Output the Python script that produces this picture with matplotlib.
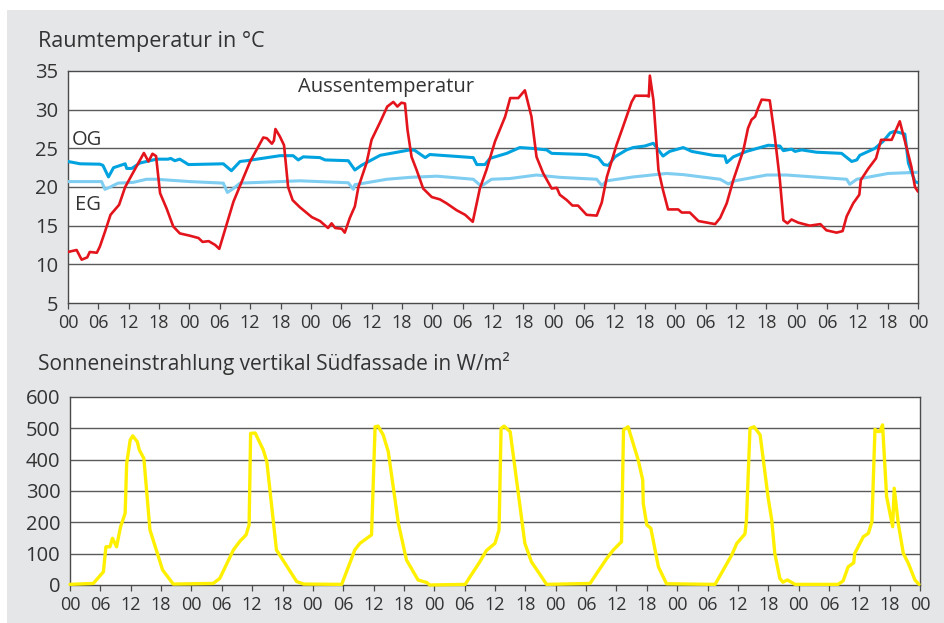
import matplotlib
matplotlib.use("Agg")
import matplotlib.pyplot as plt
from matplotlib.patches import Rectangle

plt.rcParams["font.family"] = ["Open Sans", "DejaVu Sans"]
plt.rcParams["lines.solid_joinstyle"] = "round"
plt.rcParams["lines.solid_capstyle"] = "round"

# --- Aussentemperatur (°C) over one week, hours from Monday 00:00 ---
out_hours = [0, 1.7, 2.7, 3.8, 4.3, 5.7, 6.3, 7.3, 8.4, 10.1, 11.3, 15.0, 15.9, 16.7, 17.4,
             18.2, 19.5, 20.8, 22.1, 24.1, 25.8, 26.6, 27.8, 29.1, 29.9, 32.7, 36.0, 38.6,
             39.3, 40.3, 40.7, 41.0, 41.9, 42.7, 43.5, 44.4, 45.8, 48.2, 49.8, 51.4, 52.1,
             52.8, 54.1, 54.7, 55.7, 56.7, 57.4, 59.0, 60.0, 61.7, 63.1, 64.3, 65.1, 65.9,
             66.6, 67.1, 67.9, 68.9, 70.2, 71.9, 73.5, 74.8, 76.8, 78.5, 80.0, 81.4, 82.7,
             84.4, 86.4, 87.4, 89.0, 90.3, 91.6, 92.6, 93.9, 95.6, 96.6, 97.2, 98.6, 99.7,
             100.8, 102.5, 104.5, 105.5, 106.5, 108.4, 109.7, 111.4, 112.1, 114.4, 114.8,
             115.0, 115.7, 116.7, 117.6, 118.6, 120.6, 121.3, 122.9, 124.6, 126.2, 127.9,
             128.9, 130.2, 131.5, 133.5, 134.4, 135.1, 135.8, 136.4, 137.1, 138.7, 139.7,
             140.7, 141.4, 142.2, 143.0, 144.3, 146.6, 148.7, 149.9, 151.9, 153.1, 153.9,
             155.2, 156.4, 156.7, 158.2, 159.7, 160.7, 162.8, 164.4, 165.7, 166.7, 167.4, 168]
out_temp = [11.6, 11.85, 10.6, 10.9, 11.6, 11.5, 12.3, 14.2, 16.4, 17.7, 20.0, 24.4, 23.3, 24.3,
            24.0, 19.2, 17.2, 14.9, 14.0, 13.7, 13.4, 12.9, 13.0, 12.5, 12.0, 18.1, 23.3, 26.4,
            26.3, 25.6, 26.0, 27.5, 26.5, 25.4, 20.0, 18.3, 17.4, 16.1, 15.6, 14.7, 15.3,
            14.7, 14.6, 14.1, 16.0, 17.5, 20.0, 23.1, 26.1, 28.4, 30.4, 31.0, 30.4, 30.9,
            30.8, 27.4, 23.9, 22.2, 19.8, 18.7, 18.4, 17.9, 17.0, 16.4, 15.5, 19.8, 22.2,
            25.9, 29.1, 31.5, 31.5, 32.5, 29.1, 23.9, 21.8, 19.8, 19.9, 19.0, 18.3, 17.6,
            17.6, 16.4, 16.3, 18.0, 21.3, 25.4, 27.8, 31.0, 31.8, 31.8, 31.7,
            34.4, 31.25, 22.2, 19.6, 17.1, 17.1, 16.7, 16.7, 15.6, 15.4, 15.2,
            16.0, 17.9, 20.9, 24.8, 27.6, 28.7, 29.1, 30.2, 31.3, 31.2, 26.5,
            20.9, 15.7, 15.3, 15.8, 15.4, 15.0, 15.2, 14.4, 14.1, 14.3, 16.2,
            17.9, 19.0, 20.9, 22.4, 23.7, 26.1, 26.1, 28.5, 25.2, 22.6, 20.0, 19.4]

# --- Obergeschoss (OG) room temperature ---
og_hours = [0, 2.4, 6.3, 6.9, 8.0, 9.0, 11.3, 11.6, 12.6, 14.2, 17.5, 19.8, 20.3, 21.1, 22.1,
            23.8, 30.7, 32.3, 34.0, 35.3, 41.9, 44.5, 45.5, 46.5, 49.8, 50.8, 55.4, 56.7,
            58.0, 61.7, 67.6, 68.5, 70.6, 71.5, 80.1, 80.8, 82.4, 83.4, 86.7, 89.3, 91.6,
            94.6, 95.6, 102.5, 104.8, 105.9, 106.8, 108.1, 110.4, 111.7, 114.0, 115.7,
            117.6, 118.9, 121.6, 123.3, 127.5, 129.8, 130.2, 131.5, 134.1, 138.4, 140.7,
            141.4, 143.0, 143.7, 145.0, 147.9, 152.9, 154.9, 155.9, 156.5, 159.5, 161.1,
            162.5, 163.4, 165.4, 166.1, 167.4, 168]
og_temp = [23.3, 23.0, 22.95, 22.8, 21.3, 22.5, 23.0, 22.4, 22.4, 23.1, 23.6, 23.6, 23.7, 23.4,
           23.6, 22.9, 23.0, 22.1, 23.3, 23.4, 24.05, 24.05, 23.5, 23.9, 23.8, 23.5, 23.4,
           22.2, 22.8, 24.1, 24.8, 24.75, 23.8, 24.2, 23.8, 22.9, 22.9, 23.7, 24.35, 25.1,
           25.0, 24.8, 24.35, 24.2, 23.8, 22.9, 22.8, 23.9, 24.8, 25.1, 25.3, 25.65,
           24.0, 24.6, 25.1, 24.6, 24.1, 24.0, 23.15, 23.9, 24.6, 25.4, 25.3,
           24.7, 24.9, 24.6, 24.8, 24.5, 24.35, 23.3, 23.5, 24.1, 25.0, 25.9,
           27.0, 27.2, 26.85, 23.1, 20.7, 20.55]

# --- Erdgeschoss (EG) room temperature ---
eg_hours = [0, 6.65, 7.3, 8.2, 9.9, 12.9, 15.5, 17.5, 24.1, 30.7, 31.5, 32.7, 34.0, 45.8, 55.4,
            56.4, 56.7, 59.0, 63.0, 67.6, 72.9, 80.1, 81.7, 83.7, 87.4, 92.6, 97.2, 104.5,
            105.5, 106.5, 111.7, 118.3, 121.6, 128.9, 130.5, 131.8, 138.1, 142.0, 153.9,
            154.5, 155.9, 162.1, 168]
eg_temp = [20.7, 20.7, 19.7, 19.95, 20.5, 20.6, 21.0, 21.0, 20.7, 20.5, 19.3, 19.8, 20.5, 20.8,
           20.55, 19.7, 20.3, 20.55, 21.0, 21.25, 21.4, 21.0, 20.1, 21.0, 21.1, 21.55, 21.25,
           21.0, 20.2, 20.8, 21.3, 21.75, 21.6, 21.0, 20.4, 20.8, 21.55, 21.55, 21.0,
           20.35, 21.0, 21.75, 21.9]

# --- Solar irradiance on the vertical south facade (W/m²) ---
sun_hours = [0, 4.6, 6.6, 7.1, 7.9, 8.4, 9.2, 10.0, 10.9, 11.2, 11.9, 12.4, 13.3, 13.7, 14.6,
             15.8, 18.3, 20.4, 28.3, 29.6, 32.3, 33.6, 34.8, 35.4, 35.7, 36.6, 38.2, 38.9,
             40.8, 44.8, 46.2, 53.7, 56.3, 57.3, 59.6, 60.3, 60.9, 61.9, 62.9, 64.9, 66.5,
             68.8, 70.5, 71.1, 78.1, 79.1, 81.0, 82.3, 84.0, 84.8, 85.2, 85.8, 87.0, 88.6,
             89.9, 91.2, 94.2, 102.8, 104.1, 106.1, 107.4, 109.0, 109.4, 110.3, 112.3,
             113.2, 113.3, 114.0, 114.8, 116.3, 117.9, 127.5, 130.8, 131.8, 133.4, 133.7,
             134.4, 135.2, 136.4, 138.0, 138.7, 139.3, 140.3, 140.9, 141.8, 143.3, 151.8,
             152.8, 153.8, 154.9, 155.1, 156.8, 157.8, 158.5, 159.1, 159.6, 160.1, 160.6,
             161.4, 162.6, 162.9, 163.7, 164.7, 165.7, 167.0, 167.8]
sun_wm2 = [2, 5, 42, 122, 122, 149, 122, 186, 229, 388, 463, 476, 457, 431, 404,
           176, 48, 3, 5, 21, 112, 140, 160, 192, 484, 485, 431, 394,
           112, 11, 3, 2, 112, 133, 160, 505, 507, 479, 426, 197, 80,
           16, 8, 0, 2, 27, 74, 110, 133, 176, 500, 507, 489, 293,
           133, 74, 2, 5, 37, 85, 112, 138, 495, 505, 399,
           335, 261, 192, 181, 58, 4, 2, 96, 133, 163, 207,
           500, 505, 479, 277, 207, 101, 21, 9, 16, 2, 2,
           13, 58, 71, 101, 154, 165, 202, 497, 490, 490, 511,
           282, 186, 309, 197, 101, 69, 16, 2]

hour_ticks = list(range(0, 169, 6))
hour_labels = ["00", "06", "12", "18"] * 7 + ["00"]
temp_ticks = [5, 10, 15, 20, 25, 30, 35]
sun_ticks = [0, 100, 200, 300, 400, 500, 600]

TEXT = "#333333"
FRAME = "#4a4a4a"
GRID = "#5a5a5a"

fig = plt.figure(figsize=(9.44, 6.23), dpi=100)
fig.patch.set_facecolor("white")
fig.add_artist(Rectangle((7 / 944, 0), 1, 1 - 10 / 623, transform=fig.transFigure,
                         facecolor="#e5e6e8", edgecolor="none", zorder=-10))

ax1 = fig.add_axes([68 / 944, 1 - 303 / 623, 850 / 944, 232 / 623])
ax2 = fig.add_axes([70 / 944, 1 - 585 / 623, 850 / 944, 188 / 623])


def style_axes(ax, yticks, ylim):
    ax.set_facecolor("white")
    ax.set_xlim(0, 168)
    ax.set_ylim(*ylim)
    ax.set_xticks(hour_ticks)
    ax.set_xticklabels(hour_labels)
    ax.set_yticks(yticks)
    ax.set_yticklabels([str(v) for v in yticks])
    for s in ax.spines.values():
        s.set_color(FRAME)
        s.set_linewidth(1.0)
    ax.tick_params(axis="x", direction="out", length=4, width=0.9, color=FRAME,
                   labelsize=13, labelcolor=TEXT, pad=4)
    ax.tick_params(axis="y", length=0, labelsize=14.5, labelcolor=TEXT, pad=7)
    for v in yticks[1:-1]:
        ax.axhline(v, color=GRID, lw=1.0, zorder=1)


style_axes(ax1, temp_ticks, (5, 35))
ax1.plot(eg_hours, eg_temp, color="#7fcdf0", lw=2.2, zorder=3)
ax1.plot(og_hours, og_temp, color="#00a3df", lw=2.2, zorder=3)
ax1.plot(out_hours, out_temp, color="#e3141b", lw=1.9, zorder=4)
ax1.text(0.8, 25.4, "OG", fontsize=14.5, color=TEXT, va="baseline", ha="left")
ax1.text(1.4, 17.0, "EG", fontsize=14.5, color=TEXT, va="baseline", ha="left")
ax1.text(45.4, 32.3, "Aussentemperatur", fontsize=14.5, color=TEXT, va="baseline", ha="left")

style_axes(ax2, sun_ticks, (0, 600))
ax2.plot(sun_hours, sun_wm2, color="#fff000", lw=2.4, zorder=3, clip_on=False)

fig.text(38 / 944, 1 - 47 / 623, "Raumtemperatur in °C", fontsize=15.5, color=TEXT,
         va="baseline", ha="left")
fig.text(38 / 944, 1 - 370 / 623, "Sonneneinstrahlung vertikal Südfassade in W/m²",
         fontsize=15, color=TEXT, va="baseline", ha="left")

fig.savefig("out.png", dpi=100, facecolor=fig.get_facecolor())
